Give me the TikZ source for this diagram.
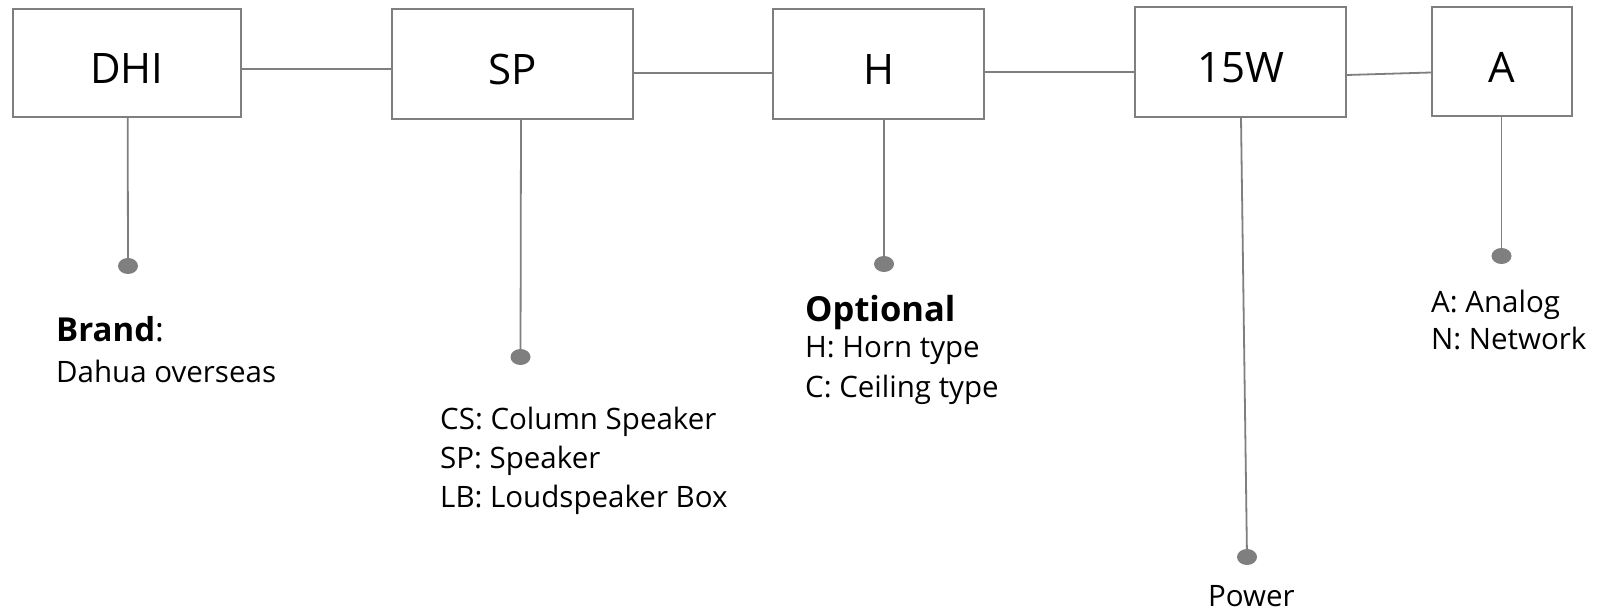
\documentclass[tikz,border=0pt]{standalone}
\usepackage{fontspec}
\setmainfont{Open Sans}
\usetikzlibrary{shapes.geometric}
\definecolor{lg}{HTML}{7F7F7F}
\begin{document}
\begin{tikzpicture}[x=1pt,y=-1pt,
  box/.style={draw=lg, line width=2pt, inner sep=0pt, text height=42pt, text depth=0pt, font=\fontsize{42}{50}\selectfont},
  dotnode/.style={ellipse, fill=lg, draw=none, minimum width=20pt, minimum height=16pt, inner sep=0pt},
  conn/.style={draw=lg, line width=1.8pt},
  lbl/.style={anchor=base west, inner sep=0pt, font=\fontsize{29.5}{38}\selectfont},
  head/.style={anchor=base west, inner sep=0pt, font=\fontsize{#1}{38}\selectfont\bfseries}]
\useasboundingbox (0,0) rectangle (1599,612);
\fill[white] (0,0) rectangle (1599,612);
% boxes
\node[box,minimum width=228pt,minimum height=108pt] (dhi) at (127,63) {DHI};
\node[box,minimum width=241pt,minimum height=110pt] (sp) at (512.5,64) {SP};
\node[box,minimum width=211pt,minimum height=110pt] (h) at (878.5,64) {H};
\node[box,minimum width=211pt,minimum height=110pt] (w) at (1240.5,62) {15W};
\node[box,minimum width=140pt,minimum height=109pt] (a) at (1502,61.5) {A};
% dots
\node[dotnode] (d1) at (128,266) {};
\node[dotnode] (d2) at (520.5,357) {};
\node[dotnode] (d3) at (884,264) {};
\node[dotnode] (d4) at (1247,557) {};
\node[dotnode] (d5) at (1501.5,256) {};
% horizontal connectors
\draw[conn] ([yshift=-6pt]dhi.east) -- ([yshift=-5pt]sp.west);
\draw[conn] ([yshift=-9pt]sp.east) -- ([yshift=-9pt]h.west);
\draw[conn] ([yshift=-8pt]h.east) -- ([yshift=-10pt]w.west);
\draw[conn] ([yshift=-13pt]w.east) -- ([yshift=-11pt]a.west);
% stems
\draw[conn] ([xshift=0.7pt]dhi.south) -- (d1.center);
\draw[conn] ([xshift=8.5pt]sp.south) -- (d2.center);
\draw[conn] ([xshift=5.5pt]h.south) -- (d3.center);
\draw[conn] ([xshift=0.5pt]w.south) -- (d4.center);
\draw[conn] ([xshift=-0.5pt]a.south) -- (d5.center);
% labels
\node[head=33] (brand) at (56,342) {Brand\textmd{:}};
\node[lbl] (brandt) at (56,383) {Dahua overseas};
\node[lbl] (sp1) at (440,429) {CS: Column Speaker};
\node[lbl] (sp2) at (440,468) {SP: Speaker};
\node[lbl] (sp3) at (440,507) {LB: Loudspeaker Box};
\node[head=34.5] (opt) at (805,322) {Optional};
\node[lbl] (opt1) at (805,358) {H: Horn type};
\node[lbl] (opt2) at (805,397) {C: Ceiling type};
\node[lbl] (a1) at (1431,313) {A: Analog};
\node[lbl] (a2) at (1431,350) {N: Network};
\node[lbl] (pw) at (1208,606) {Power};
\end{tikzpicture}
\end{document}
